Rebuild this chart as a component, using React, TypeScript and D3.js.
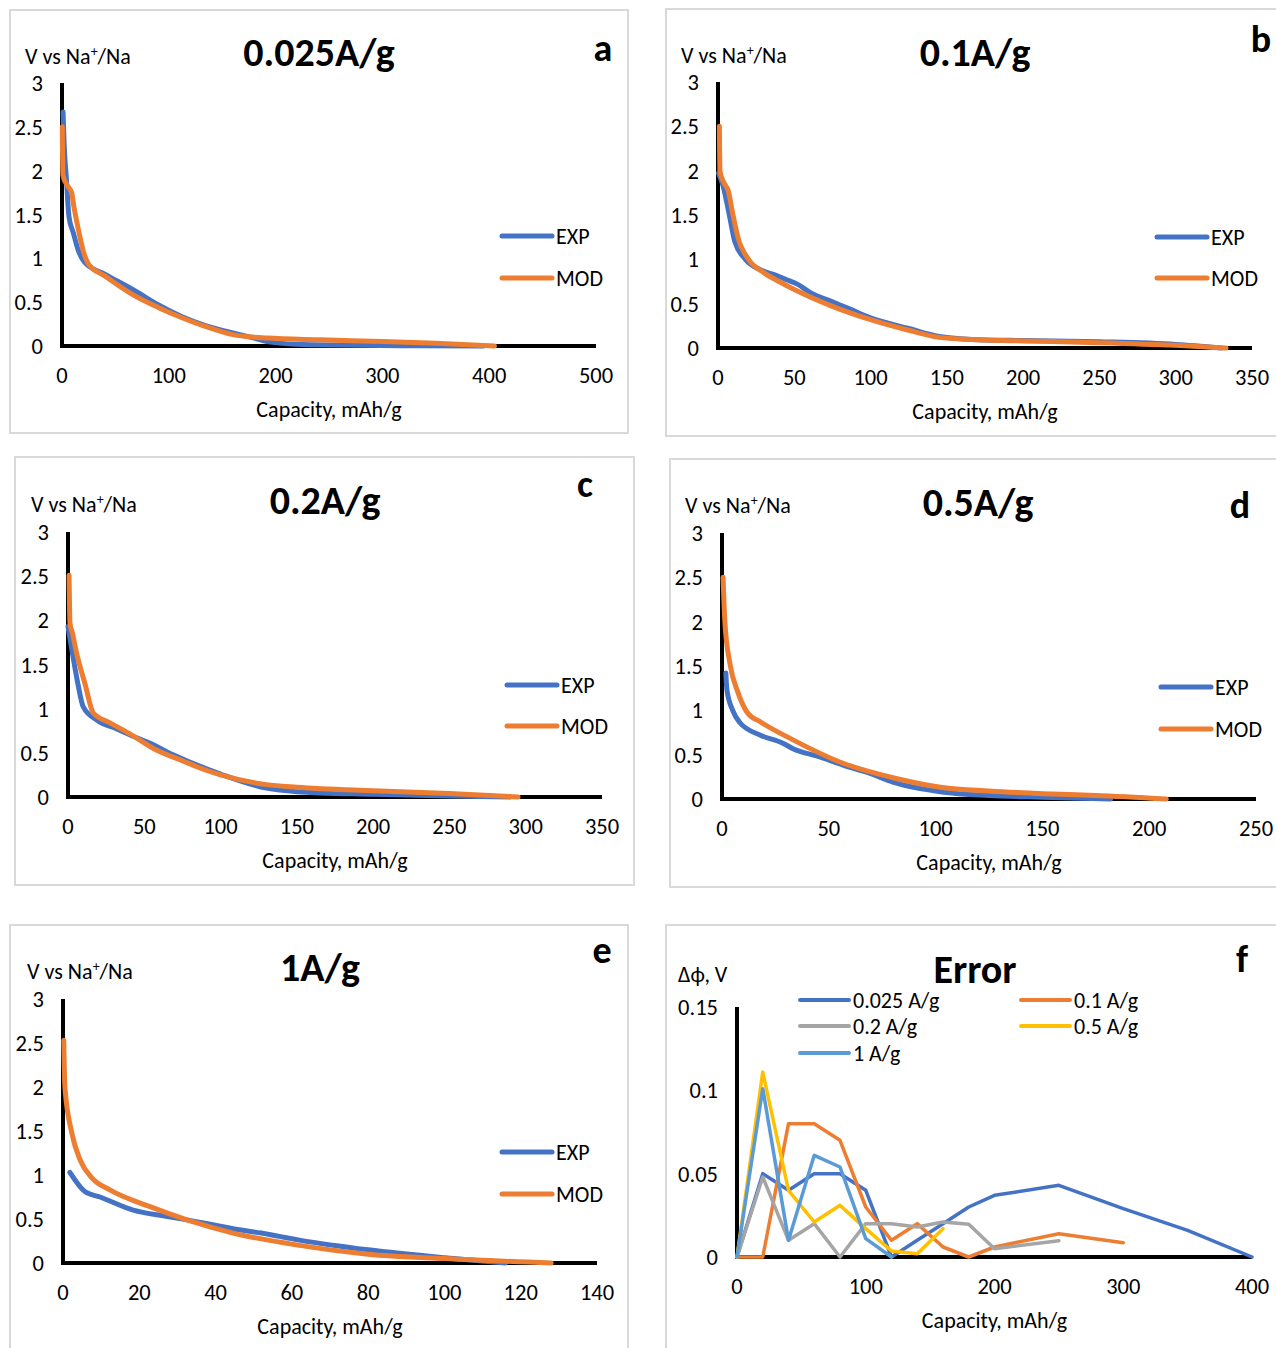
import React from "react";
import * as d3 from "d3";

const FONT = "Carlito, Lato, 'Open Sans', sans-serif";
const BLUE = "#4472C4";
const ORANGE = "#ED7D31";
const GRAY = "#A5A5A5";
const YELLOW = "#FFC000";
const LBLUE = "#5B9BD5";

type Pt = [number, number];

// ---- Panel a: 0.025 A/g ----
const expA: Pt[] = [[1,2.67],[2,2.3],[4,1.93],[6.6,1.47],[10.6,1.29],[15,1.1],[21.5,0.95],[40,0.82],[67,0.64],[90,0.47],[113,0.33],[135,0.23],[160,0.15],[180,0.09],[192,0.05],[220,0.02],[260,0.01],[332,0.003],[395,0.0]];
const modA: Pt[] = [[0.3,2.5],[0.8,1.95],[5,1.83],[9,1.75],[11,1.6],[13,1.47],[16,1.29],[20,1.08],[25,0.93],[40,0.8],[67,0.58],[90,0.44],[113,0.32],[135,0.22],[160,0.13],[180,0.1],[192,0.09],[242,0.07],[300,0.05],[350,0.03],[405,0.0]];
const ticksXA = [0, 100, 200, 300, 400, 500];

// ---- Panel b: 0.1 A/g ----
const expB: Pt[] = [[0.4,1.97],[3.3,1.83],[7.2,1.52],[11,1.2],[18,1.0],[28,0.88],[38,0.82],[45,0.77],[52,0.72],[60,0.63],[75,0.52],[85,0.45],[100,0.34],[125,0.22],[145,0.13],[175,0.09],[200,0.085],[250,0.07],[300,0.04],[330,0.0]];
const modB: Pt[] = [[0.9,2.5],[1.3,1.99],[4,1.86],[6.6,1.78],[9.6,1.52],[13,1.25],[20,1.0],[30,0.85],[40,0.75],[50,0.66],[75,0.47],[100,0.32],[125,0.2],[145,0.12],[175,0.09],[200,0.08],[250,0.06],[300,0.03],[333,0.0]];
const ticksXB = [0, 50, 100, 150, 200, 250, 300, 350];

// ---- Panel c: 0.2 A/g ----
const expC: Pt[] = [[0,1.93],[2.6,1.66],[6.5,1.28],[10,1.02],[19,0.87],[32,0.77],[45,0.67],[55,0.6],[65,0.51],[70,0.47],[100,0.26],[130,0.1],[150,0.06],[200,0.03],[250,0.01],[290,0.0]];
const modC: Pt[] = [[0.7,2.51],[1.3,1.97],[3,1.85],[5.2,1.66],[8,1.47],[11,1.29],[16.6,0.95],[27.5,0.84],[40,0.72],[56,0.55],[75,0.41],[91,0.3],[100,0.25],[130,0.14],[150,0.11],[200,0.07],[250,0.04],[295,0.0]];
const ticksXC = [0, 50, 100, 150, 200, 250, 300, 350];

// ---- Panel d: 0.5 A/g ----
const expD: Pt[] = [[1.8,1.42],[2.3,1.23],[5,1.0],[8.4,0.86],[18,0.72],[28.5,0.63],[33,0.57],[45,0.48],[57,0.38],[68,0.3],[80,0.19],[103,0.08],[125,0.04],[150,0.02],[182,0.0]];
const modD: Pt[] = [[0.5,2.5],[1.4,1.98],[3.7,1.53],[7.5,1.2],[12,0.97],[18,0.87],[33,0.67],[57,0.4],[80,0.24],[103,0.13],[125,0.09],[150,0.06],[175,0.04],[208,0.0]];
const ticksXD = [0, 50, 100, 150, 200, 250];

// ---- Panel e: 1 A/g ----
const expE: Pt[] = [[1.8,1.03],[5.8,0.81],[9.7,0.75],[18.4,0.6],[27,0.53],[32.5,0.49],[44.6,0.39],[52,0.34],[62,0.26],[80,0.15],[100,0.06],[116,0.0]];
const modE: Pt[] = [[0.2,2.53],[0.5,2.0],[2.3,1.48],[4.5,1.17],[7.5,0.97],[12.3,0.83],[22.8,0.64],[32.5,0.49],[44.6,0.34],[62,0.2],[80,0.1],[100,0.05],[128,0.0]];
const ticksXE = [0, 20, 40, 60, 80, 100, 120, 140];

const ticksV = [0, 0.5, 1, 1.5, 2, 2.5, 3];

// ---- Panel f: Error ----
const err025: Pt[] = [[0,0],[20,0.05],[40,0.04],[60,0.05],[80,0.05],[100,0.04],[120,0.0],[140,0.01],[160,0.02],[180,0.03],[200,0.037],[250,0.043],[300,0.029],[350,0.016],[400,0.0]];
const err01: Pt[] = [[0,0],[20,0],[40,0.08],[60,0.08],[80,0.07],[100,0.03],[120,0.01],[140,0.02],[160,0.006],[180,0.0],[200,0.006],[250,0.014],[300,0.0086]];
const err02: Pt[] = [[0,0],[20,0.048],[40,0.01],[60,0.02],[80,0.0],[100,0.02],[120,0.02],[140,0.018],[160,0.021],[180,0.0196],[200,0.005],[250,0.0098]];
const err05: Pt[] = [[0,0],[20,0.111],[40,0.04],[60,0.021],[80,0.031],[100,0.017],[120,0.0036],[140,0.002],[160,0.017]];
const err1: Pt[] = [[0,0],[20,0.101],[40,0.01],[60,0.061],[80,0.054],[100,0.011],[120,0.0]];
const ticksXF = [0, 100, 200, 300, 400];
const ticksErr = [0, 0.05, 0.1, 0.15];

type Series = { name: string; color: string; data: Pt[] };

type LegendItem = { name: string; color: string; lx: number; ly: number };

type Cfg = {
  box: [number, number, number, number];
  x0: number; x1: number; yTop: number; yBot: number;
  xMax: number; xTicks: number[];
  yMax: number; yTicks: number[];
  title: string; titleX: number; titleY: number;
  letter: string; letterX: number; letterY: number;
  yLabel: "V" | "phi"; yLabelX: number; yLabelY: number;
  series: Series[]; sw: number; smooth: boolean;
  legend: LegendItem[]; legW: number; legSw: number; legFs: number;
};

const TICK_FS = 22.5;
const LABEL_FS = 22;

function Panel({ c }: { c: Cfg }) {
  const x = d3.scaleLinear().domain([0, c.xMax]).range([c.x0, c.x1]);
  const y = d3.scaleLinear().domain([0, c.yMax]).range([c.yBot, c.yTop]);
  const line = d3
    .line<Pt>()
    .x((d) => x(d[0]))
    .y((d) => y(d[1]))
    .curve(c.smooth ? d3.curveMonotoneX : d3.curveLinear);
  const [bx, by, bw, bh] = c.box;
  return (
    <g fontFamily={FONT} fill="#000">
      <rect x={bx} y={by} width={bw} height={bh} fill="#fff" stroke="#D9D9D9" strokeWidth={2} />
      {/* axes */}
      <line x1={c.x0} y1={c.yTop} x2={c.x0} y2={c.yBot + 2} stroke="#000" strokeWidth={4} />
      <line x1={c.x0} y1={c.yBot} x2={c.x1} y2={c.yBot} stroke="#000" strokeWidth={4} />
      {c.xTicks.map((t) => (
        <text key={"x" + t} x={x(t)} y={c.yBot + 29} dy="0.36em" fontSize={TICK_FS} textAnchor="middle">
          {String(t)}
        </text>
      ))}
      {c.yTicks.map((t) => (
        <text key={"y" + t} x={c.x0 - 19} y={y(t)} dy="0.36em" fontSize={TICK_FS} textAnchor="end">
          {String(t)}
        </text>
      ))}
      <text x={(c.x0 + c.x1) / 2} y={c.yBot + 63} dy="0.36em" fontSize={LABEL_FS} textAnchor="middle">
        Capacity, mAh/g
      </text>
      {c.yLabel === "V" ? (
        <text x={c.yLabelX} y={c.yLabelY} fontSize={LABEL_FS}>
          V vs Na
          <tspan fontSize={14} dy={-8}>+</tspan>
          <tspan dy={8}>/Na</tspan>
        </text>
      ) : (
        <text x={c.yLabelX} y={c.yLabelY} fontSize={LABEL_FS}>
          Δϕ, V
        </text>
      )}
      <text x={c.titleX} y={c.titleY} fontSize={40} fontWeight="bold" textAnchor="middle">
        {c.title}
      </text>
      <text x={c.letterX} y={c.letterY} fontSize={38} fontWeight="bold" textAnchor="middle">
        {c.letter}
      </text>
      {c.series.map((s) => (
        <path
          key={s.name}
          d={line(s.data) || ""}
          fill="none"
          stroke={s.color}
          strokeWidth={c.sw}
          strokeLinejoin="round"
          strokeLinecap="round"
        />
      ))}
      {c.legend.map((l) => (
        <g key={"l" + l.name}>
          <line x1={l.lx} y1={l.ly} x2={l.lx + c.legW} y2={l.ly} stroke={l.color} strokeWidth={c.legSw} strokeLinecap="round" />
          <text x={l.lx + c.legW + 4} y={l.ly} dy="0.36em" fontSize={c.legFs}>
            {l.name}
          </text>
        </g>
      ))}
    </g>
  );
}

function vPanel(
  box: [number, number, number, number],
  x0: number, x1: number, yTop: number, yBot: number,
  xMax: number, xTicks: number[],
  title: string, titleX: number, titleY: number,
  letter: string, letterX: number, letterY: number,
  yLabelX: number, yLabelY: number,
  exp: Pt[], mod: Pt[],
  legX: number, legY1: number, legY2: number
): Cfg {
  return {
    box, x0, x1, yTop, yBot, xMax, xTicks, yMax: 3, yTicks: ticksV,
    title, titleX, titleY, letter, letterX, letterY,
    yLabel: "V", yLabelX, yLabelY,
    series: [
      { name: "EXP", color: BLUE, data: exp },
      { name: "MOD", color: ORANGE, data: mod },
    ],
    sw: 5, smooth: true,
    legend: [
      { name: "EXP", color: BLUE, lx: legX, ly: legY1 },
      { name: "MOD", color: ORANGE, lx: legX, ly: legY2 },
    ],
    legW: 50, legSw: 5, legFs: 22,
  };
}

const panels: Cfg[] = [
  vPanel([10, 10, 618, 423], 62, 596, 83, 346, 500, ticksXA, "0.025A/g", 319, 66, "a", 603, 61, 25, 64, expA, modA, 502, 236, 278),
  vPanel([666, 9, 640, 427], 718, 1252, 82, 348, 350, ticksXB, "0.1A/g", 975, 66, "b", 1261, 52, 681, 63, expB, modB, 1157, 237, 278),
  vPanel([15, 457, 619, 428], 68, 602, 532, 797, 350, ticksXC, "0.2A/g", 325, 514, "c", 585, 497, 31, 512, expC, modC, 507, 685, 726),
  vPanel([670, 459, 640, 428], 722, 1256, 533, 799, 250, ticksXD, "0.5A/g", 978, 516, "d", 1240, 518, 685, 513, expD, modD, 1161, 687, 729),
  vPanel([10, 925, 618, 440], 63, 597, 999, 1263, 140, ticksXE, "1A/g", 320, 981, "e", 602, 963, 27, 979, expE, modE, 502, 1152, 1194),
  {
    box: [666, 925, 640, 440],
    x0: 737, x1: 1252, yTop: 1007, yBot: 1257,
    xMax: 400, xTicks: ticksXF, yMax: 0.15, yTicks: ticksErr,
    title: "Error", titleX: 975, titleY: 983,
    letter: "f", letterX: 1242, letterY: 972,
    yLabel: "phi", yLabelX: 678, yLabelY: 982,
    series: [
      { name: "0.025 A/g", color: BLUE, data: err025 },
      { name: "0.1 A/g", color: ORANGE, data: err01 },
      { name: "0.2 A/g", color: GRAY, data: err02 },
      { name: "0.5 A/g", color: YELLOW, data: err05 },
      { name: "1 A/g", color: LBLUE, data: err1 },
    ],
    sw: 3.5, smooth: false,
    legend: [
      { name: "0.025 A/g", color: BLUE, lx: 800, ly: 1000 },
      { name: "0.1 A/g", color: ORANGE, lx: 1021, ly: 1000 },
      { name: "0.2 A/g", color: GRAY, lx: 800, ly: 1026 },
      { name: "0.5 A/g", color: YELLOW, lx: 1021, ly: 1026 },
      { name: "1 A/g", color: LBLUE, lx: 800, ly: 1053 },
    ],
    legW: 49, legSw: 4, legFs: 22,
  },
];

export default function App() {
  return (
    <div style={{ position: "absolute", left: 0, top: 0 }}>
      <svg width={1276} height={1348} viewBox="0 0 1276 1348" style={{ display: "block", background: "#fff" }}>
        <rect x={0} y={0} width={1276} height={1348} fill="#fff" />
        {panels.map((p, i) => (
          <Panel key={i} c={p} />
        ))}
      </svg>
    </div>
  );
}
